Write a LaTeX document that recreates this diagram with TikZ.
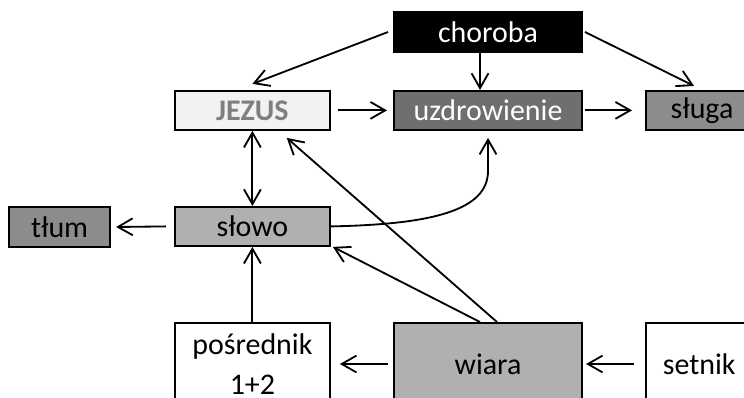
\documentclass[tikz,border=0pt]{standalone}
\usepackage{fontspec}
\setmainfont{Carlito}
\usetikzlibrary{positioning, arrows.meta}
\definecolor{ciemny}{HTML}{6F6F6F}
\definecolor{sredni}{HTML}{8C8C8C}
\definecolor{jasny}{HTML}{B0B0B0}
\definecolor{bialawy}{HTML}{F2F2F2}
\definecolor{tekstszary}{HTML}{7F7F7F}

\begin{document}
\begin{tikzpicture}[font=\fontsize{21.3}{28.5}\selectfont,
    box/.style={draw=black, line width=1.4pt, inner sep=0pt, align=center},
    arr/.style={line width=1.3pt, -{Straight Barb[length=10.5pt, width=12pt, line width=1.3pt]}},
    darr/.style={line width=1.3pt, {Straight Barb[length=10.5pt, width=12pt, line width=1.3pt]}-{Straight Barb[length=10.5pt, width=12pt, line width=1.3pt]}}]
    \useasboundingbox (0,0) rectangle (18.6,-9.925);
    % gorny rzad
    \node[box, fill=black, text=white, minimum width=4.7cm, minimum height=1.0cm] (choroba) at (12.2,-0.8) {choroba};
    \node[box, fill=bialawy, text=tekstszary, font=\fontsize{21.3}{28.5}\selectfont\bfseries, minimum width=3.875cm, minimum height=0.975cm] (jezus) at (6.31,-2.76) {JEZUS};
    \node[box, fill=ciemny, text=white, minimum width=4.7cm, minimum height=0.975cm] (uzdr) at (12.2,-2.76) {uzdrowienie};
    \node[box, fill=sredni, minimum width=2.8cm, minimum height=0.975cm] (sluga) at (17.55,-2.76) {sługa};
    % srodek
    \node[box, fill=sredni, minimum width=2.525cm, minimum height=1.0cm] (tlum) at (1.49,-5.675) {tłum};
    \node[box, fill=jasny, minimum width=3.875cm, minimum height=0.975cm] (slowo) at (6.31,-5.66) {słowo};
    % dolny rzad
    \node[box, fill=white, minimum width=3.875cm, minimum height=2.05cm] (posr) at (6.31,-9.1) {pośrednik\\1+2};
    \node[box, fill=jasny, minimum width=4.7cm, minimum height=2.05cm] (wiara) at (12.2,-9.1) {wiara};
    \node[box, fill=white, minimum width=2.65cm, minimum height=2.05cm] (setnik) at (17.48,-9.1) {setnik};
    % strzalki
    \draw[arr] ([xshift=-0.125cm]choroba.west) -- ([yshift=0.15cm]jezus.north);
    \draw[arr] ([xshift=-0.2cm]choroba.south) -- ([xshift=-0.2cm]uzdr.north);
    \draw[arr] ([xshift=0.05cm]choroba.east) -- ([xshift=-0.2cm,yshift=0.1cm]sluga.north);
    \draw[arr] ([xshift=0.175cm]jezus.east) -- ([xshift=-0.15cm]uzdr.west);
    \draw[arr] ([xshift=0.05cm]uzdr.east) -- ([xshift=-0.325cm]sluga.west);
    \draw[darr] (jezus.south) -- (slowo.north);
    \draw[arr] ([xshift=0.225cm]wiara.north) -- ([xshift=0.86cm,yshift=-0.175cm]jezus.south);
    \draw[arr] ([xshift=-0.2cm]wiara.north) -- ([xshift=0.05cm]slowo.south east);
    \draw[arr] (slowo.east) .. controls +(2.5,0.05) and +(0,-1.0) .. ([yshift=-1.0cm]uzdr.south) -- ([yshift=-0.175cm]uzdr.south);
    \draw[arr] ([xshift=-0.2cm]slowo.west) -- ([xshift=0.125cm]tlum.east);
    \draw[arr] (posr.north) -- (slowo.south);
    \draw[arr] ([xshift=-0.125cm]wiara.west) -- ([xshift=0.225cm]posr.east);
    \draw[arr] ([xshift=-0.275cm]setnik.west) -- ([xshift=0.075cm]wiara.east);
\end{tikzpicture}
\end{document}
